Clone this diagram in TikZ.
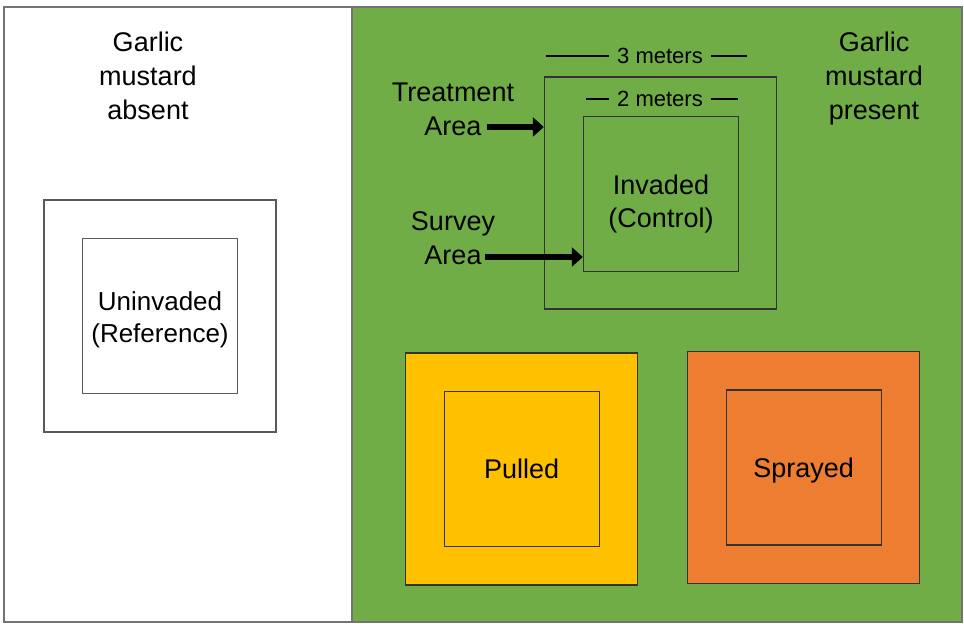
\documentclass[tikz,border=0pt]{standalone}
\usepackage{fontspec}
\setmainfont{Liberation Sans}
\usetikzlibrary{arrows.meta}
\definecolor{grass}{HTML}{70AD47}
\definecolor{pullcol}{HTML}{FFC000}
\definecolor{spraycol}{HTML}{ED7D31}
\tikzstyle{plotout} = [rectangle, draw=black!80, line width=0.7pt, inner sep=0pt, minimum size=116pt]
\tikzstyle{plotin} = [rectangle, draw=black!80, line width=0.7pt, inner sep=0pt, minimum size=77.5pt, align=center, font=\fontsize{13.5}{16.5}\selectfont]
\tikzstyle{plottext} = [align=center, inner sep=0pt, font=\fontsize{13.5}{16.5}\selectfont]
\tikzstyle{caption} = [align=center, inner sep=0pt, font=\fontsize{13.5}{17}\selectfont]
\tikzstyle{sizelbl} = [inner sep=3.7pt, font=\fontsize{11}{13}\selectfont]
\tikzstyle{fat} = [draw, line width=3.2pt, -{Triangle[length=5.5pt,width=9.5pt]}]

\begin{document}
\begin{tikzpicture}[x=0.5pt, y=-0.5pt]
	\useasboundingbox (0,0) rectangle (964,624);
	% the two halves of the field
	\fill[grass] (352,7) rectangle (962,622);
	\draw[black!55, line width=0.6pt] (4,7) rectangle (962,622);
	\draw[black!55, line width=0.6pt] (352,7) -- (352,622);
	\node [caption] (absent) at (148,76) {Garlic\\mustard\\absent};
	\node [caption] (present) at (874,79) {Garlic\\mustard\\present};
	% uninvaded plot
	\node [plotout, draw=black!65] (refout) at (160,316) {};
	\node [plotin, draw=black!65] (refin) at (refout) {};
	\node [plottext, font=\fontsize{13}{16}\selectfont, yshift=-2pt] (reftext) at (refin) {Uninvaded\\(Reference)};
	% invaded plot
	\node [plotout] (invout) at (660.5,193) {};
	\node [plotin] (invin) at (661,194) {};
	\node [plottext, yshift=-5pt] (invtext) at (invin) {Invaded\\(Control)};
	\node [sizelbl] (three) at (660,56) {3 meters};
	\node [sizelbl] (two) at (660,99) {2 meters};
	\coordinate (threeL) at (546,56);
	\coordinate (threeR) at (747,56);
	\coordinate (twoL) at (586,99);
	\coordinate (twoR) at (738,99);
	\draw[line width=0.6pt] (threeL) -- (three);
	\draw[line width=0.6pt] (three) -- (threeR);
	\draw[line width=0.6pt] (twoL) -- (two);
	\draw[line width=0.6pt] (two) -- (twoR);
	\node [caption] (treat) at (453,109) {Treatment\\Area};
	\node [caption] (survey) at (453,238) {Survey\\Area};
	\coordinate (treattail) at (487,127);
	\coordinate (surveytail) at (485,257);
	\path [fat] (treattail) -- (treattail -| invout.west);
	\path [fat] (surveytail) -- (surveytail -| invin.west);
	% treated plots
	\node [plotout, fill=pullcol] (pullout) at (521.7,469) {};
	\node [plotin, fill=pullcol] (pullin) at (pullout) {Pulled};
	\node [plotout, fill=spraycol, right of=pullout, node distance=141pt, yshift=0.8pt] (sprayout) {};
	\node [plotin, fill=spraycol, text depth=0pt] (sprayin) at (sprayout) {Sprayed};
\end{tikzpicture}
\end{document}
